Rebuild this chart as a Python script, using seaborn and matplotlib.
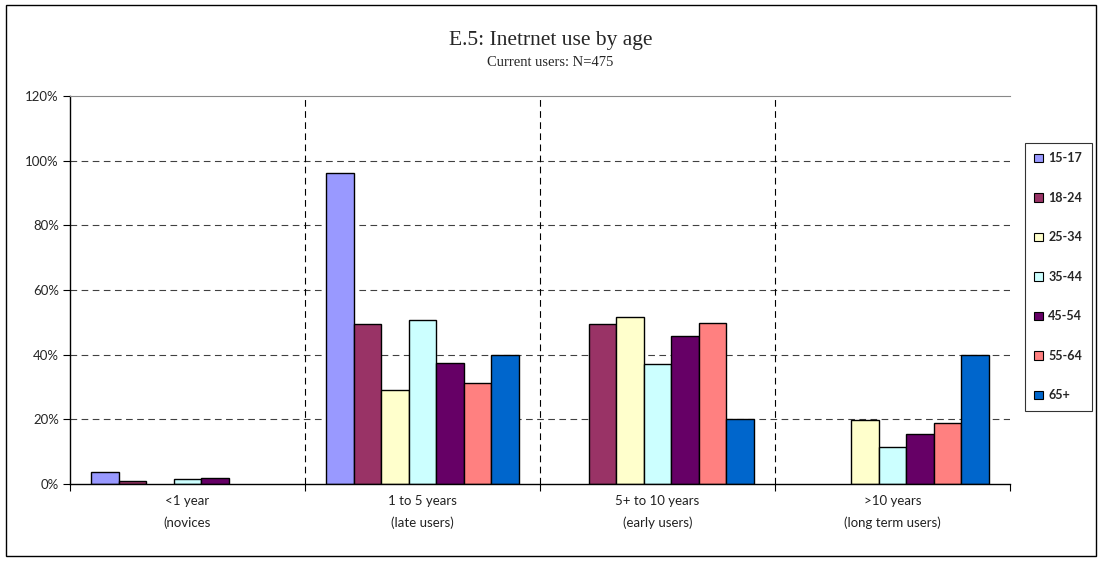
import numpy as np
import pandas as pd
import matplotlib
matplotlib.use('Agg')
import matplotlib.pyplot as plt
import seaborn as sns
from matplotlib.patches import Rectangle, Patch
from matplotlib.ticker import FuncFormatter

periods = ['<1 year\n(novices', '1 to 5 years\n(late users)',
           '5+ to 10 years\n(early users)', '>10 years\n(long term users)']
ages = ['15-17', '18-24', '25-34', '35-44', '45-54', '55-64', '65+']
colors = ['#9999FF', '#993366', '#FFFFCC', '#CCFFFF', '#660066', '#FF8080', '#0066CC']

# share of current users (%) per age group, one list per period
novices = [3.8, 1.0, 0.0, 1.5, 1.9, 0.0, 0.0]
late_users = [96.3, 49.5, 29.2, 50.6, 37.5, 31.2, 40.0]
early_users = [0.0, 49.5, 51.6, 37.0, 45.8, 49.9, 20.0]
long_term = [0.0, 0.0, 19.7, 11.3, 15.5, 18.9, 40.0]

rows = []
for p, vals in zip(periods, [novices, late_users, early_users, long_term]):
    for a, v in zip(ages, vals):
        rows.append({'period': p, 'age': a, 'share': v})
df = pd.DataFrame(rows)

sns.set_style('white')
plt.rcParams['font.family'] = ['Lato', 'DejaVu Sans']

fig = plt.figure(figsize=(11.01, 5.61), dpi=100)
ax = fig.add_axes([70/1101, 77/561, 940/1101, 388/561])

sns.barplot(data=df, x='period', y='share', hue='age', palette=colors,
            order=periods, hue_order=ages, width=0.82, edgecolor='black',
            linewidth=1.0, saturation=1, ax=ax, legend=False)

# empty bars should not leave an outline on the axis
for bar in ax.patches:
    if bar.get_height() == 0:
        bar.set_linewidth(0)

ax.set_ylim(0, 120)
ax.set_xlim(-0.5, 3.5)
ax.set_yticks(np.arange(0, 121, 20))
ax.yaxis.set_major_formatter(FuncFormatter(lambda v, _: '{:.0f}%'.format(v)))
for y in range(20, 101, 20):
    ax.axhline(y, color='black', linestyle=(0, (6, 4)), linewidth=0.8, alpha=0.75, zorder=0)
for x in [0.5, 1.5, 2.5]:
    ax.axvline(x, color='black', linestyle=(0, (6, 4)), linewidth=0.8, zorder=0)
ax.set_xticks([-0.5, 0.5, 1.5, 2.5, 3.5], minor=False)
ax.set_xticklabels([])
ax.set_xticks([0, 1, 2, 3], minor=True)
ax.set_xticklabels(periods, minor=True, fontsize=9.5, color='#222222', linespacing=1.9)
ax.tick_params(axis='x', which='minor', length=0, pad=8)
ax.tick_params(axis='x', which='major', length=5, direction='out', color='black')
ax.tick_params(axis='y', length=5, direction='out', color='black', labelsize=9.5, pad=3)
ax.tick_params(left=True, bottom=True)
ax.set_xlabel('')
ax.set_ylabel('')
for s in ['left', 'bottom']:
    ax.spines[s].set_color('black')
    ax.spines[s].set_linewidth(1.0)
ax.spines['top'].set_color('#888888')
ax.spines['top'].set_linewidth(0.8)
ax.spines['right'].set_visible(False)

fig.text(0.5, 1 - 40/561, 'E.5: Inetrnet use by age', ha='center', va='center',
         fontsize=15.5, family='Liberation Serif')
fig.text(0.5, 1 - 62/561, 'Current users: N=475', ha='center', va='center',
         fontsize=10.5, family='Liberation Serif')

handles = [Patch(facecolor=c, edgecolor='black', linewidth=0.8) for c in colors]
leg = fig.legend(handles, ages, loc='upper left', bbox_to_anchor=(1025/1101, 1 - 143/561),
                 frameon=True, fancybox=False, edgecolor='black', handlelength=0.7,
                 handleheight=0.7, handletextpad=0.4, labelspacing=2.2,
                 borderpad=0.75, borderaxespad=0,
                 prop={'weight': 'bold', 'size': 9, 'family': 'Lato'})
leg.get_frame().set_linewidth(0.8)

fig.patches.append(Rectangle((6/1101, 5/561), 1090/1101, 551/561, transform=fig.transFigure,
                             fill=False, edgecolor='black', linewidth=1.0))

fig.savefig('out.png', dpi=100)
